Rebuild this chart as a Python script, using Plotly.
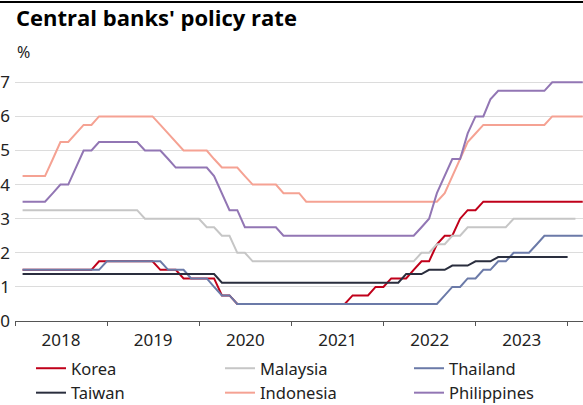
import pandas as pd
import plotly.graph_objects as go

dates = pd.date_range("2018-01-31", "2024-02-29", freq="ME")

korea = ([1.5]*10 + [1.75]*2 +
         [1.75]*6 + [1.5]*3 + [1.25]*3 +
         [1.25, 1.25, 0.75, 0.75] + [0.5]*8 +
         [0.5]*7 + [0.75]*3 + [1.0]*2 +
         [1.25, 1.25, 1.25, 1.5, 1.75, 1.75, 2.25, 2.5, 2.5, 3.0, 3.25, 3.25] +
         [3.5]*12 + [3.5]*2)

taiwan = ([1.375]*12 + [1.375]*12 +
          [1.375, 1.375] + [1.125]*10 +
          [1.125]*12 +
          [1.125, 1.125, 1.375, 1.375, 1.375, 1.5, 1.5, 1.5, 1.625, 1.625, 1.625, 1.75] +
          [1.75, 1.75] + [1.875]*10)

malaysia = ([3.25]*12 +
            [3.25]*4 + [3.0]*8 +
            [2.75, 2.75, 2.5, 2.5, 2.0, 2.0] + [1.75]*6 +
            [1.75]*12 +
            [1.75]*4 + [2.0, 2.0, 2.25, 2.25, 2.5, 2.5, 2.75, 2.75] +
            [2.75]*4 + [3.0]*8 + [3.0])

indonesia = ([4.25]*4 + [4.75, 5.25, 5.25, 5.5, 5.75, 5.75, 6.0, 6.0] +
             [6.0]*6 + [5.75, 5.5, 5.25, 5.0, 5.0, 5.0] +
             [5.0, 4.75, 4.5, 4.5, 4.5, 4.25, 4.0, 4.0, 4.0, 4.0, 3.75, 3.75] +
             [3.75] + [3.5]*11 +
             [3.5]*7 + [3.75, 4.25, 4.75, 5.25, 5.5] +
             [5.75]*9 + [6.0]*3 + [6.0]*2)

thailand = ([1.5]*11 + [1.75] +
            [1.75]*7 + [1.5]*3 + [1.25]*2 +
            [1.25, 1.0, 0.75, 0.75] + [0.5]*8 +
            [0.5]*12 +
            [0.5]*7 + [0.75, 1.0, 1.0, 1.25, 1.25] +
            [1.5, 1.5, 1.75, 1.75, 2.0, 2.0, 2.0, 2.25, 2.5, 2.5, 2.5, 2.5] +
            [2.5]*2)

philippines = ([3.5, 3.5, 3.5, 3.5, 3.75, 4.0, 4.0, 4.5, 5.0, 5.0, 5.25, 5.25] +
               [5.25]*4 + [5.0]*3 + [4.75] + [4.5]*4 +
               [4.5, 4.25, 3.75, 3.25, 3.25, 2.75, 2.75, 2.75, 2.75, 2.75, 2.5, 2.5] +
               [2.5]*12 +
               [2.5]*4 + [2.75, 3.0, 3.75, 4.25, 4.75, 4.75, 5.5, 6.0] +
               [6.0, 6.5] + [6.75]*7 + [7.0]*3 + [7.0]*2)

series_names = ["Korea", "Malaysia", "Thailand", "Taiwan", "Indonesia", "Philippines"]
series_values = [korea, malaysia, thailand, taiwan, indonesia, philippines]
series_colors = ["#c0001a", "#c6c6c6", "#6b7aa8", "#2a2e3e", "#f5a293", "#9276b4"]

y_ticks = [0, 1, 2, 3, 4, 5, 6, 7]

fig = go.Figure()
for name, vals, col in zip(series_names, series_values, series_colors):
    fig.add_trace(go.Scatter(x=dates[:len(vals)], y=vals, name=name, mode="lines",
                             line=dict(color=col, width=2)))

FONT = "Noto Sans"
W, H = 583, 405
fig.update_layout(
    width=W, height=H,
    margin=dict(l=15, r=0, t=76, b=84, autoexpand=False),
    paper_bgcolor="white", plot_bgcolor="white",
    font=dict(family=FONT, size=17, color="#222"),
    title=dict(text="<b>Central banks' policy rate</b>", x=16/W, xanchor="left",
               xref="container", y=1-18/H, yref="container", yanchor="middle",
               font=dict(family="Open Sans", size=22, color="#000", weight=800)),
    showlegend=True,
    legend=dict(orientation="h", xref="container", x=31/W, xanchor="left",
                yref="container", y=1-351/H, yanchor="top",
                entrywidth=144, entrywidthmode="pixels",
                font=dict(family=FONT, size=16.5, color="#222"),
                bgcolor="rgba(0,0,0,0)", tracegroupgap=0),
    xaxis=dict(range=["2018-01-01", "2024-03-01"], type="date",
               tick0="2018-01-01", dtick="M12", tickformat="%Y",
               ticklabelmode="period", showgrid=False,
               showline=True, linecolor="#555", linewidth=1,
               ticks="outside", ticklen=4, tickcolor="#555",
               tickfont=dict(family=FONT, size=17, color="#222")),
    yaxis=dict(range=[0, 245/34.1], tickvals=y_ticks, showgrid=True,
               gridcolor="#dcdcdc", gridwidth=1, zeroline=False, showline=False,
               ticks="", ticklabelstandoff=4,
               tickfont=dict(family=FONT, size=17, color="#222")),
    annotations=[dict(text="%", xref="paper", yref="paper", x=0, y=(321-52)/245,
                      xanchor="left", yanchor="middle", showarrow=False,
                      font=dict(family=FONT, size=16, color="#222"))],
    shapes=[dict(type="rect", xref="paper", yref="paper", x0=-15/568, x1=1,
                 y0=(321-3)/245, y1=(321-1)/245, fillcolor="#000",
                 line=dict(width=0), layer="above")],
)

fig.write_html("out.html", config={"displayModeBar": False},
               post_script="document.body.style.margin='0';document.body.style.padding='0';")
